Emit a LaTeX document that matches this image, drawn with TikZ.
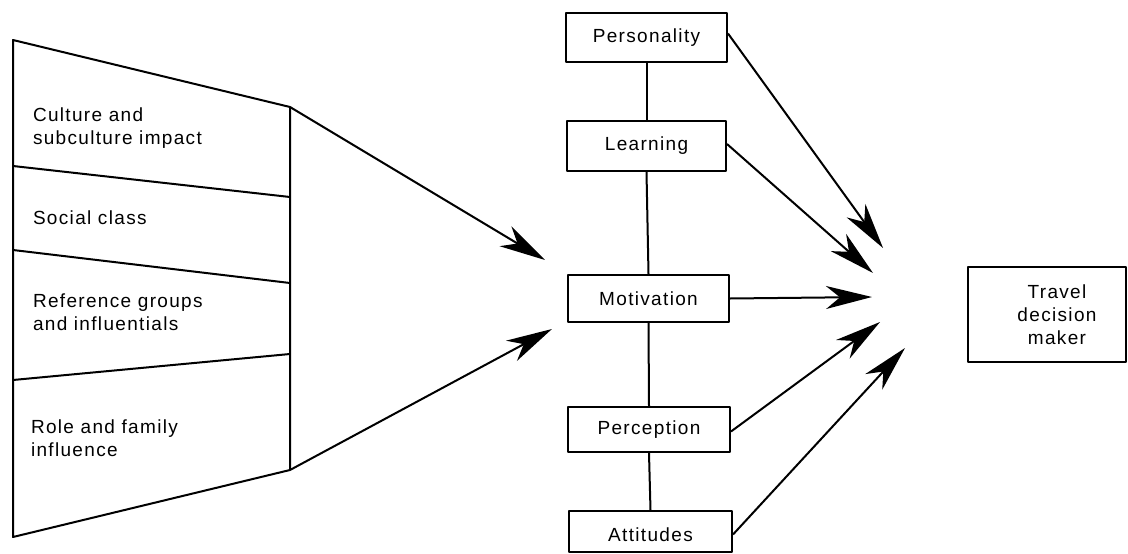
\documentclass[tikz,border=0pt]{standalone}
\usepackage{fontspec}
\setmainfont{Liberation Sans}[LetterSpace=7]
\usetikzlibrary{arrows.meta}
\begin{document}
\begin{tikzpicture}[x=1pt,y=-1pt,line width=2pt,line join=round,
  lbl/.style={font=\fontsize{19}{23}\selectfont},
  ltxt/.style={lbl,align=left,inner sep=0pt,anchor=west},
  fbox/.style={draw,lbl,inner sep=0pt},
  arr/.style={-{Stealth[length=46pt,width=23pt,inset=14pt]}}]
\useasboundingbox (0,0) rectangle (1128,554);
% left trapezoid
\coordinate (ptl) at (13,40);
\coordinate (ptr) at (290,107);
\coordinate (pbr) at (290,470);
\coordinate (pbl) at (13,537);
\draw (ptl) -- (ptr) -- (pbr) -- (pbl) -- cycle;
\draw (13,166) -- (290,197);
\draw (13,250) -- (290,283);
\draw (13,380) -- (290,354);
\node[ltxt] (cult) at (32,128.5) {Culture and\\subculture impact};
\node[ltxt] (soc) at (32,218) {Social class};
\node[ltxt] (ref) at (32,312.5) {Reference groups\\and influentials};
\node[ltxt] (role) at (30,438.5) {Role and family\\influence};
% middle boxes
\node[fbox,minimum width=161pt,minimum height=49pt] (pers) at (646.5,37.5) {Personality};
\node[fbox,minimum width=159pt,minimum height=50pt] (learn) at (646.5,146) {Learning};
\node[fbox,minimum width=161pt,minimum height=47pt] (motiv) at (648.5,298.5) {Motivation};
\node[fbox,minimum width=162pt,minimum height=45pt] (perc) at (649,429.5) {Perception};
\node[fbox,minimum width=163pt,minimum height=41pt] (att) at (650.5,531.5) {};
\node[lbl,inner sep=0pt] (atttxt) at (650.5,535) {Attitudes};
\draw (pers.south) -- (learn.north);
\draw (learn.south) -- (motiv.north);
\draw (motiv.south) -- (perc.north);
\draw (perc.south) -- (att.north);
% travel decision maker
\node[draw,minimum width=158pt,minimum height=95pt,inner sep=0pt] (travel) at (1047,314.5) {};
\node[lbl,align=center,inner sep=0pt] (traveltxt) at (1057,314.5) {Travel\\decision\\maker};
% arrows from trapezoid
\coordinate (ta) at (545,260);
\coordinate (tb) at (552,329);
\draw[arr] (ptr) -- (ta);
\draw[arr] (pbr) -- (tb);
% arrows to travel decision maker
\coordinate (r1) at (883,248);
\coordinate (r2) at (873,273);
\coordinate (r3) at (872,297);
\coordinate (r4) at (880,322);
\coordinate (r5) at (905,348);
\draw[arr] ([yshift=4pt]pers.east) -- (r1);
\draw[arr] ([yshift=2pt]learn.east) -- (r2);
\draw[arr] (motiv.east) -- (r3);
\draw[arr] ([yshift=-2pt]perc.east) -- (r4);
\draw[arr] ([yshift=-3pt]att.east) -- (r5);
\end{tikzpicture}
\end{document}
